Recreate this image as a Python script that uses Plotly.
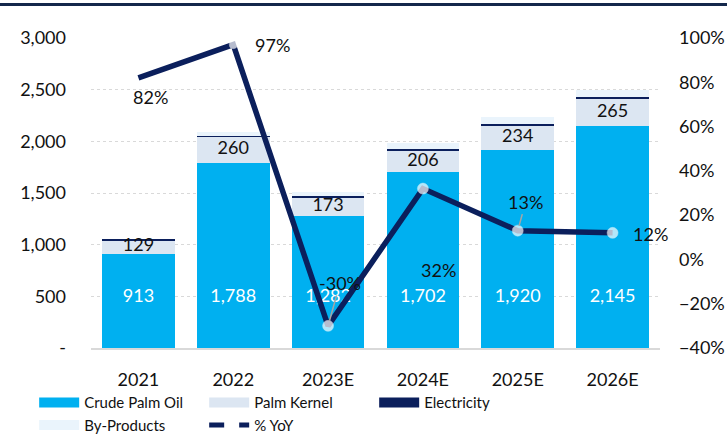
import plotly.graph_objects as go

years = ["2021", "2022", "2023E", "2024E", "2025E", "2026E"]
crude_palm_oil = [913, 1788, 1282, 1702, 1920, 2145]
palm_kernel = [129, 260, 173, 206, 234, 265]
electricity = [4, 5, 12, 14, 15, 18]
by_products = [0, 35, 40, 60, 65, 70]
yoy = [0.82, 0.97, -0.30, 0.32, 0.13, 0.12]
yoy_labels = ["82%", "97%", "-30%", "32%", "13%", "12%"]

C_CPO = "#00b0f0"
C_PK = "#dce6f2"
C_EL = "#0b1f5c"
C_BP = "#eaf4fc"
C_LINE = "#0b1f5c"
FONT = "Lato"

W, H = 727, 434
ML, MR, MT, MB = 91, 67, 38, 86
PW, PH = W - ML - MR, H - MT - MB

fig = go.Figure()

# stacked bars
for name, vals, col in [("Crude Palm Oil", crude_palm_oil, C_CPO),
                        ("Palm Kernel", palm_kernel, C_PK),
                        ("Electricity", electricity, C_EL),
                        ("By-Products", by_products, C_BP)]:
    fig.add_trace(go.Bar(x=years, y=vals, name=name, marker=dict(color=col, line=dict(width=0)),
                         showlegend=False, hoverinfo="skip"))

# bar value labels (text traces)
fig.add_trace(go.Scatter(x=years, y=[490] * len(years), mode="text",
                         text=[f"{v:,}" for v in crude_palm_oil],
                         textfont=dict(family=FONT, size=18, color="white"),
                         showlegend=False, hoverinfo="skip", cliponaxis=False))
fig.add_trace(go.Scatter(x=years, y=[c + p / 2 for c, p in zip(crude_palm_oil, palm_kernel)], mode="text",
                         text=[f"{v:,}" for v in palm_kernel],
                         textfont=dict(family=FONT, size=18, color="#111111"),
                         showlegend=False, hoverinfo="skip", cliponaxis=False))

# % YoY line
fig.add_trace(go.Scatter(x=years, y=yoy, yaxis="y2", mode="lines+markers", name="% YoY",
                         line=dict(color=C_LINE, width=5.5),
                         marker=dict(color="#ffffff", size=[0, 8, 11, 11, 11, 11],
                                     line=dict(color="#ffffff", width=0.5)),
                         showlegend=False, cliponaxis=False, hoverinfo="skip"))

# legend-only entries
for name, col in [("Crude Palm Oil", C_CPO), ("Palm Kernel", C_PK), ("Electricity", C_EL), ("By-Products", C_BP)]:
    fig.add_trace(go.Scatter(x=[years[0]], y=[None], mode="lines", name=name,
                             line=dict(color=col, width=12), hoverinfo="skip"))
fig.add_trace(go.Scatter(x=[years[0]], y=[None], mode="lines", name="% YoY",
                         line=dict(color=C_LINE, width=5, dash="dash"), hoverinfo="skip"))

# line labels (x given as category index on the category axis)
offsets = [  # (dx, dy, arrow)
    (12, 19, False), (39, 0, False), (12, -43, True), (16, 81, False), (8, -29, True), (38, 1, False)]
for i, (y, t, (dx, dy, arr)) in enumerate(zip(yoy, yoy_labels, offsets)):
    if arr:
        fig.add_annotation(x=i, y=y, xref="x", yref="y2", text=t, showarrow=True, arrowhead=0,
                           arrowwidth=1.5, arrowcolor="#a6a6a6", axref="pixel", ayref="pixel",
                           ax=dx, ay=dy, standoff=5,
                           font=dict(family=FONT, size=18, color="#111111"))
    else:
        fig.add_annotation(x=i, y=y, xref="x", yref="y2", text=t, showarrow=False,
                           xshift=dx, yshift=-dy,
                           font=dict(family=FONT, size=18, color="#111111"))

# top navy band
fig.add_shape(type="rect", xref="paper", yref="paper",
              x0=-ML / PW - 0.01, x1=1 + MR / PW + 0.01, y0=1 + 32 / PH, y1=1 + 35 / PH,
              fillcolor="#14284b", line=dict(width=0), layer="above")

fig.update_layout(
    width=W, height=H,
    margin=dict(l=ML, r=MR, t=MT, b=MB, autoexpand=False),
    paper_bgcolor="white", plot_bgcolor="white",
    barmode="stack", bargap=0.234,
    font=dict(family=FONT, size=18, color="#111111"),
    xaxis=dict(type="category", categoryorder="array", categoryarray=years, range=[-0.5, 5.5],
               showline=True, linecolor="#d9d9d9", linewidth=1.5, ticks="", showgrid=False,
               ticklabelstandoff=15, tickfont=dict(size=18), automargin=False),
    yaxis=dict(range=[0, 3000], tickvals=[0, 500, 1000, 1500, 2000, 2500, 3000],
               ticktext=["-", "500", "1,000", "1,500", "2,000", "2,500", "3,000"],
               showgrid=True, gridcolor="#d9d9d9", griddash="dot", gridwidth=1,
               zeroline=False, ticklabelstandoff=24, tickfont=dict(size=18), automargin=False),
    yaxis2=dict(overlaying="y", side="right", range=[-0.4, 1.0], dtick=0.2, tick0=0,
                tickformat=".0%", showgrid=False, zeroline=False, ticklabelstandoff=18,
                tickfont=dict(size=18), automargin=False),
    legend=dict(orientation="h", xref="container", yref="container", x=0.047, y=0.11,
                xanchor="left", yanchor="top", entrywidth=115, entrywidthmode="pixels",
                font=dict(family=FONT, size=15, color="#111111"), itemwidth=40,
                traceorder="normal", tracegroupgap=0),
)

fig.write_html("out.html")
